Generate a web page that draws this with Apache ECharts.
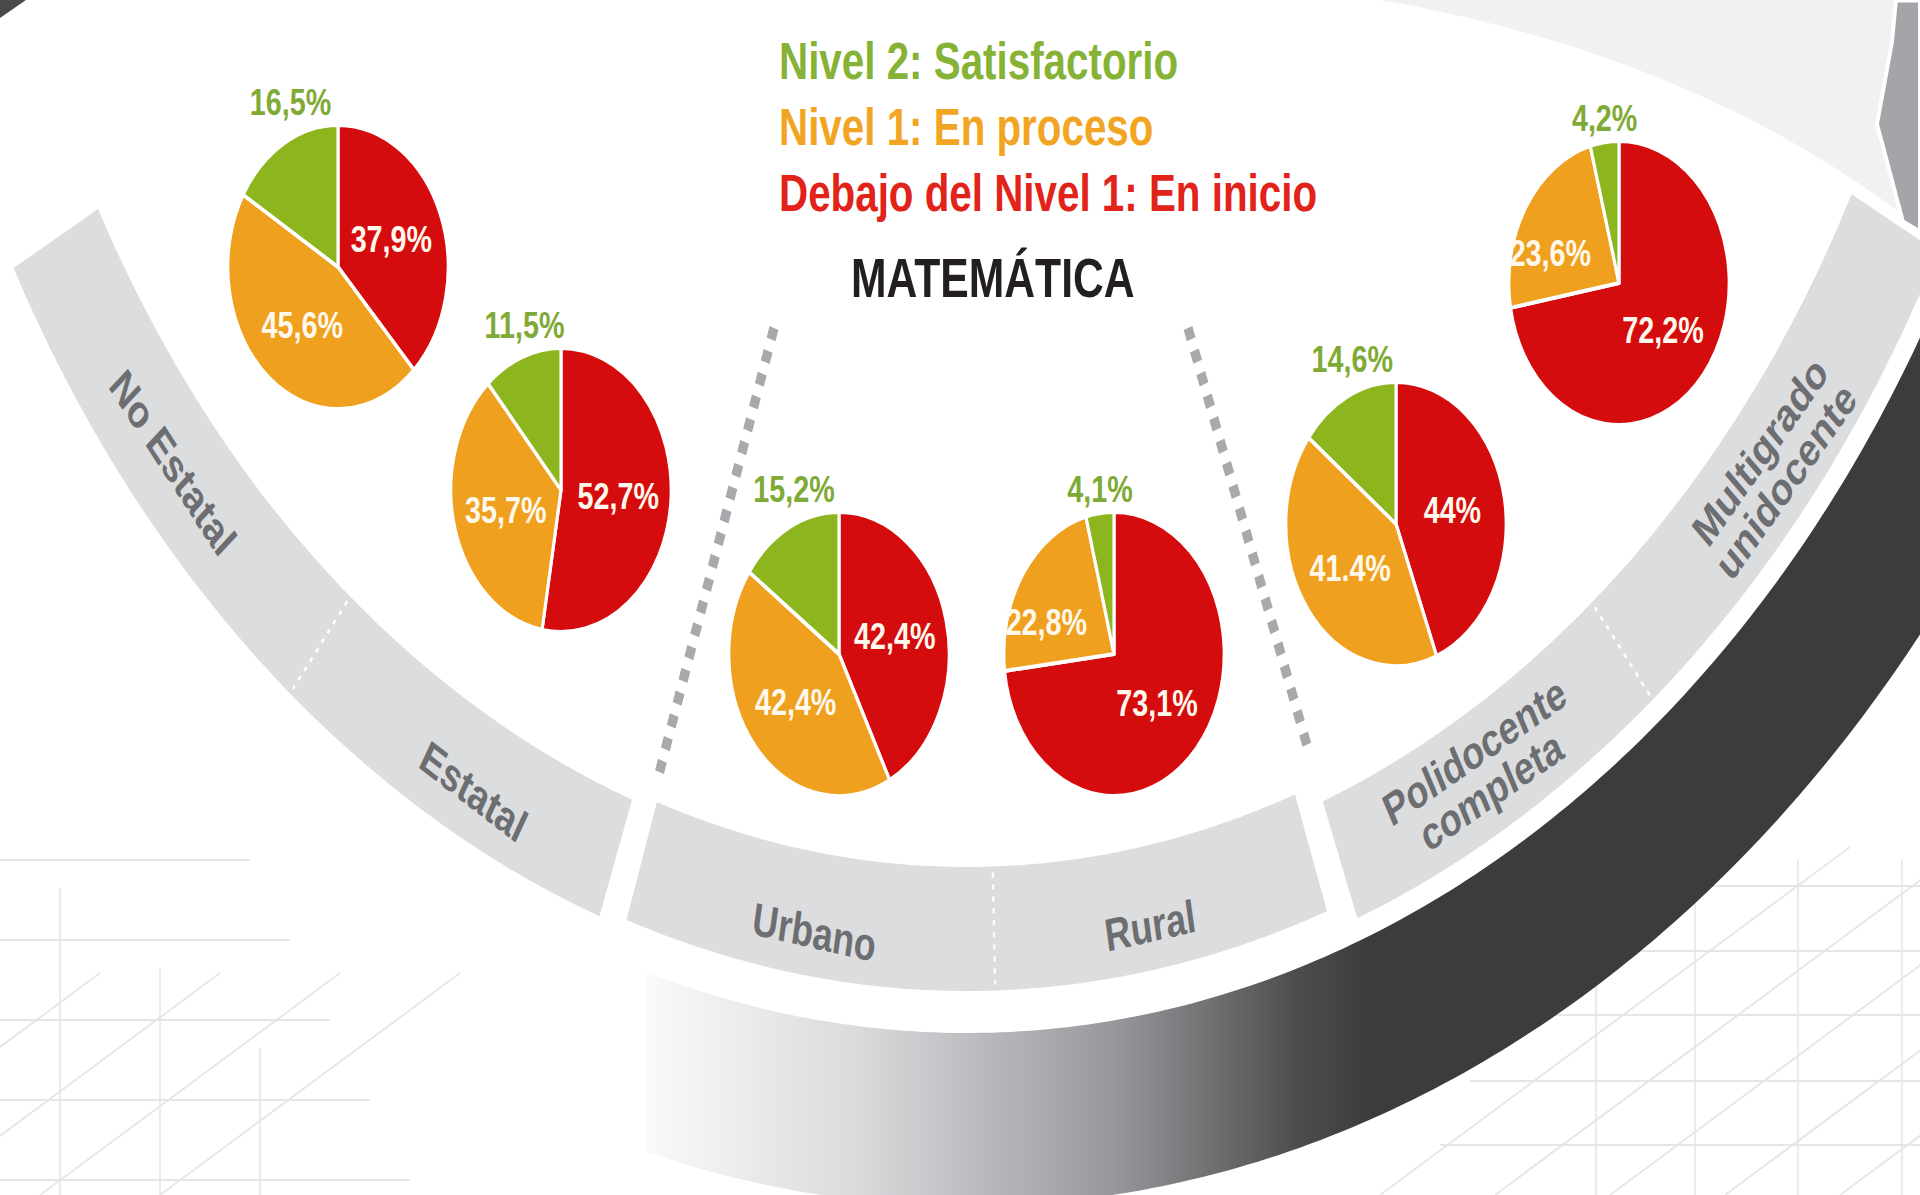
<!DOCTYPE html>
<html>
<head>
<meta charset="utf-8">
<script src="https://cdn.jsdelivr.net/npm/echarts@6/dist/echarts.min.js"></script>
<style>
html,body{margin:0;padding:0;background:#fff;overflow:hidden;width:1920px;height:1195px}
#chart{width:2474px;height:1195px;transform:scaleX(0.776071);transform-origin:0 0}
</style>
</head>
<body>
<div id="chart"></div>
<script>
// ---------------- DATA ----------------
const levels = ['Debajo del Nivel 1: En inicio', 'Nivel 1: En proceso', 'Nivel 2: Satisfactorio'];
const groups = ['No Estatal', 'Estatal', 'Urbano', 'Rural', 'Polidocente\ncompleta', 'Multigrado\nunidocente'];
const enInicio      = [37.9, 52.7, 42.4, 73.1, 44.0, 72.2];
const enProceso     = [45.6, 35.7, 42.4, 22.8, 41.4, 23.6];
const satisfactorio = [16.5, 11.5, 15.2, 4.1, 14.6, 4.2];
const inicioLabels  = ['37,9%', '52,7%', '42,4%', '73,1%', '44%', '72,2%'];
const procesoLabels = ['45,6%', '35,7%', '42,4%', '22,8%', '41.4%', '23,6%'];
const satisLabels   = ['16,5%', '11,5%', '15,2%', '4,1%', '14,6%', '4,2%'];
const titleText = 'MATEMÁTICA';

// ---------------- LAYOUT ----------------
const SX = 1920 / 2474;            // horizontal squeeze applied by CSS
const X = v => v / SX;             // final px -> chart px
const RAD = Math.PI / 180;
const FONT = "'Liberation Sans', Arial, sans-serif";
const RED = '#D50C0E', ORANGE = '#EFA01E', GREEN = '#8CB51E', GREEN_TXT = '#7FAA36';
const pieCenters = [[338, 267], [561, 490], [839, 654], [1114, 654], [1396, 524], [1619, 283]];
const PIE_R = 142;
const BC = [1246, -399];           // centre of the arc band (chart px)
const polar = (deg, r) => [BC[0] + r * Math.cos(deg * RAD), BC[1] + r * Math.sin(deg * RAD)];

const bandSegs = [
  {a0: 109.8, a1: 151.5, r0: 1274, r: 1398, div: 128.6},
  {a0: 70.5,  a1: 108.4, r0: 1266, r: 1390, div: 88.5},
  {a0: 27.5,  a1: 69.1,  r0: 1285, r: 1410, div: 51.2}
];
// [angle on band, radius, text rotation (deg, counter-clockwise, chart space)]
const bandLabelPos = [
  [139.9, 1338, -50.1], [118.1, 1350, -31], [98.4, 1346, -10],
  [79.9, 1346, 10], [60.4, 1346, 28.5], [39.8, 1352, 48]
];

const graphics = [];
// light grey area at the top right
(function () {
  const pts = [[X(1380), 0]];
  const p0 = [1380, 0], p1 = [1700, 55], p2 = [1920, 228];
  for (let t = 0; t <= 1.0001; t += 0.05) {
    const x = (1 - t) * (1 - t) * p0[0] + 2 * (1 - t) * t * p1[0] + t * t * p2[0];
    const y = (1 - t) * (1 - t) * p0[1] + 2 * (1 - t) * t * p1[1] + t * t * p2[1];
    pts.push([X(x), y]);
  }
  pts.push([X(1920), 0]);
  graphics.push({type: 'polygon', z: 0, silent: true, shape: {points: pts}, style: {fill: '#F1F1F2'}});
  // grey arrow head piece on the top-right edge
  graphics.push({type: 'polygon', z: 0, silent: true,
    shape: {points: [[X(1896), 0], [X(1920), 0], [X(1920), 232], [X(1903), 222], [X(1877), 124], [X(1892), 42]]},
    style: {fill: '#A4A5A8', stroke: '#FFFFFF', lineWidth: 5}});
})();
// faint background grid at the bottom corners
(function () {
  const c = '#E4E5E7';
  const add = (a, b) => graphics.push({type: 'line', z: 0, silent: true,
    shape: {x1: X(a[0]), y1: a[1], x2: X(b[0]), y2: b[1]}, style: {stroke: c, lineWidth: 2}});
  [886, 951, 1015, 1081, 1145].forEach((y, k) => { add([1560 - k * 30, y], [1920, y]); });
  [1596, 1695, 1798, 1902].forEach(x => add([x, 860], [x, 1195]));
  for (let k = 0; k < 6; k++) add([1380 + k * 115, 1195], [1380 + k * 115 + 470, 1195 - 348]);
  [860, 940, 1020, 1100, 1180].forEach((y, k) => { add([0, y], [250 + k * 40, y]); });
  [60, 160, 260].forEach(x => add([x, 840 + x * 0.8], [x, 1195]));
  for (let k = 0; k < 4; k++) add([-200 + k * 120, 1195], [-200 + k * 120 + 300, 1195 - 222]);
})();
// dark swoosh with gradient (vertical cut on the left)
(function () {
  const r0 = 1432, r1 = 1605, leftX = X(647);
  const aIn = Math.acos((leftX - BC[0]) / r0) / RAD;
  const aOut = Math.acos((leftX - BC[0]) / r1) / RAD;
  const pts = [];
  for (let a = aIn; a >= 10; a -= 0.5) pts.push(polar(a, r0));
  for (let a = 10; a <= aOut; a += 0.5) pts.push(polar(a, r1));
  pts.push(polar(aOut, r1));
  graphics.push({
    type: 'polygon', z: 1, silent: true,
    shape: {points: pts},
    style: {fill: new echarts.graphic.LinearGradient(X(640), 0, X(1370), 0, [
      {offset: 0, color: '#FBFBFB'}, {offset: 0.3, color: '#DADADD'},
      {offset: 0.65, color: '#98979B'}, {offset: 0.9, color: '#4E4C4E'}, {offset: 1, color: '#3D3B3C'}
    ], true)}
  });
})();
// light grey band segments + white dotted dividers
bandSegs.forEach(s => {
  graphics.push({
    type: 'sector', z: 1, silent: true,
    shape: {cx: BC[0], cy: BC[1], r0: s.r0, r: s.r, startAngle: s.a0 * RAD, endAngle: s.a1 * RAD, clockwise: true},
    style: {fill: '#DCDDDF'}
  });
  const p1 = polar(s.div, s.r0 + 6), p2 = polar(s.div, s.r - 6);
  graphics.push({
    type: 'line', z: 1, silent: true,
    shape: {x1: p1[0], y1: p1[1], x2: p2[0], y2: p2[1]},
    style: {stroke: '#FFFFFF', lineWidth: 3, lineDash: [5, 7]}
  });
});
// band labels
groups.forEach((g, i) => {
  const [deg, r, rot] = bandLabelPos[i];
  const p = polar(deg, r);
  graphics.push({
    type: 'text', z: 1, silent: true,
    x: p[0], y: p[1], rotation: rot * RAD,
    style: {text: g, fill: '#6D6E71', font: "bold 46px 'Liberation Sans', Arial, sans-serif",
            align: 'center', verticalAlign: 'middle', lineHeight: 45}
  });
});
// grey square-dotted separators
[[[774, 328], [659, 774]], [[1188, 328], [1308, 749]]].forEach(l => {
  graphics.push({
    type: 'line', z: 1, silent: true,
    shape: {x1: X(l[0][0]), y1: l[0][1], x2: X(l[1][0]), y2: l[1][1]},
    style: {stroke: '#A7A9AC', lineWidth: 12, lineDash: [12, 12]}
  });
});
// top-left corner piece
graphics.push({type: 'polygon', z: 0, silent: true,
  shape: {points: [[0, 0], [X(26), 0], [0, 18]]}, style: {fill: '#4A4A4C'}});

// ---------------- SERIES ----------------
const series = groups.map((g, i) => ({
  type: 'pie',
  name: g.replace('\n', ' '),
  center: [X(pieCenters[i][0]), pieCenters[i][1]],
  radius: PIE_R,
  startAngle: 90,
  clockwise: true,
  animation: false,
  avoidLabelOverlap: false,
  emphasis: {scale: false},
  itemStyle: {borderColor: '#FFFFFF', borderWidth: 4},
  label: {show: true, position: 'inside', color: '#FFF8EC', fontSize: 37, fontWeight: 'bold', fontFamily: FONT},
  labelLine: {show: false},
  labelLayout: p => {
    if (p.dataIndex === 2) {
      return {x: p.rect.x + p.rect.width / 2, y: p.rect.y - 2, align: 'center', verticalAlign: 'bottom'};
    }
    // narrow "en proceso" wedges: their label sits further out in the wedge
    if (p.dataIndex === 1 && enProceso[p.seriesIndex] < 30) {
      return {dx: -26, dy: 10};
    }
    return {};
  },
  data: [
    {name: levels[0], value: enInicio[i], itemStyle: {color: RED}, label: {formatter: inicioLabels[i]}},
    {name: levels[1], value: enProceso[i], itemStyle: {color: ORANGE}, label: {formatter: procesoLabels[i]}},
    {name: levels[2], value: satisfactorio[i], itemStyle: {color: GREEN},
     label: {formatter: satisLabels[i], position: 'outside', color: GREEN_TXT}, labelLine: {show: false}}
  ]
}));

const chart = echarts.init(document.getElementById('chart'), null, {renderer: 'svg', width: 2474, height: 1195});
chart.setOption({
  backgroundColor: '#FFFFFF',
  animation: false,
  title: {
    text: titleText, left: X(851), top: 250, padding: 0,
    textStyle: {fontSize: 55, fontWeight: 'bold', color: '#231F20', fontFamily: FONT}
  },
  legend: {
    orient: 'vertical', left: X(779) - 5, top: 32, padding: 0,
    icon: 'none', itemWidth: 0, itemHeight: 58, itemGap: 8,
    textStyle: {fontSize: 52, fontWeight: 'bold', fontFamily: FONT, lineHeight: 58},
    data: [
      {name: levels[2], textStyle: {color: '#86B236'}},
      {name: levels[1], textStyle: {color: '#F2A523'}},
      {name: levels[0], textStyle: {color: '#E2231A'}}
    ]
  },
  graphic: {elements: graphics},
  series: series
});
</script>
</body>
</html>
